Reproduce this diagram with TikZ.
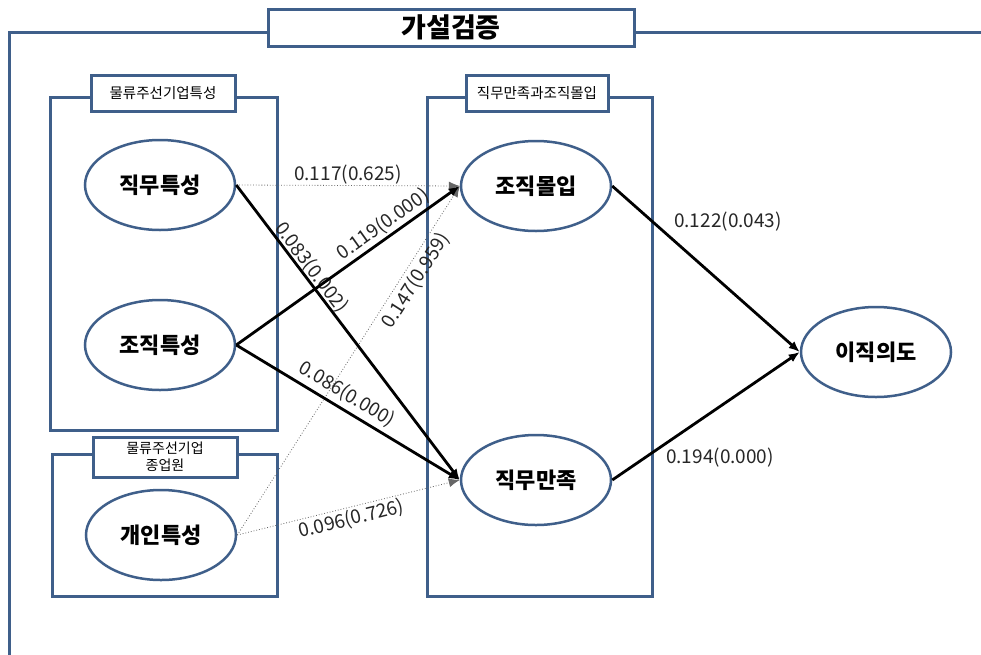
\documentclass[tikz,border=0pt]{standalone}
\usepackage{fontspec}
\setmainfont{Noto Sans CJK KR}
\usetikzlibrary{arrows.meta,shapes.geometric}
\definecolor{frameblue}{HTML}{3F5F8A}
\tikzset{
  frameline/.style={draw=frameblue, line width=3pt},
  groupbox/.style={draw=frameblue, line width=3pt},
  labbox/.style={draw=frameblue, line width=3pt, fill=white, inner sep=0pt, font=\fontsize{14.5}{16}\selectfont, align=center},
  factor/.style={ellipse, draw=frameblue, line width=2.5pt, fill=white, minimum width=150pt, minimum height=90pt, inner sep=0pt, font=\fontsize{22}{26}\selectfont\bfseries},
  strong/.style={draw=black, line width=2.8pt, -{Latex[length=11pt,width=9pt]}},
  weak/.style={draw=black!60, line width=0.8pt, dotted, -{Latex[length=11pt,width=9pt]}},
  coef/.style={font=\fontsize{19}{21}\selectfont, text=black!85, inner sep=2pt}
}
\begin{document}
\begin{tikzpicture}[x=1pt,y=-1pt]
\useasboundingbox (0,0) rectangle (981,654);
\fill[white] (0,0) rectangle (981,654);
% outer frame
\coordinate (fA) at (268,32);
\coordinate (fB) at (9,32);
\coordinate (fC) at (9,660);
\coordinate (fD) at (634,32);
\coordinate (fE) at (990,32);
\draw[frameline] (fA) -- (fB) -- (fC);
\draw[frameline] (fD) -- (fE);
\node[draw=frameblue, line width=3pt, fill=white, minimum width=366pt, minimum height=37pt, inner sep=0pt, font=\fontsize{27}{30}\selectfont\bfseries] (title) at (451,27.5) {가설검증};
% group boxes
\draw[groupbox] (50,97) rectangle (277,430);
\draw[groupbox] (52,454) rectangle (277,596);
\draw[groupbox] (427,97) rectangle (652,596);
\node[labbox, minimum width=144pt, minimum height=36pt] (g1lab) at (163,93) {물류주선기업특성};
\node[labbox, minimum width=144pt, minimum height=40pt, font=\fontsize{14}{17}\selectfont] (g2lab) at (165,457) {물류주선기업\\종업원};
\node[labbox, minimum width=142pt, minimum height=36pt] (g3lab) at (537,93) {직무만족과조직몰입};
% factors
\node[factor] (jt) at (160,185) {직무특성};
\node[factor] (ot) at (160,345) {조직특성};
\node[factor] (pt) at (161,535) {개인특성};
\node[factor] (oc) at (536,186) {조직몰입};
\node[factor] (js) at (536,480) {직무만족};
\node[factor] (ti) at (876,352) {이직의도};
% paths
\draw[weak] (jt.east) -- node[coef, above, yshift=-1pt] {0.117(0.625)} (oc.west);
\draw[weak] (pt.east) -- node[coef, sloped, below, pos=0.75, yshift=-2pt] {0.147(0.959)} (oc.west);
\draw[weak] (pt.east) -- node[coef, sloped, below, pos=0.5] {0.096(0.726)} (js.west);
\draw[strong] (jt.east) -- node[coef, sloped, pos=0.3, above, yshift=-3pt] {0.083(0.002)} (js.west);
\draw[strong] (ot.east) -- node[coef, sloped, pos=0.69, above] {0.119(0.000)} (oc.west);
\draw[strong] (ot.east) -- node[coef, sloped, pos=0.46, above, yshift=2pt] {0.086(0.000)} (js.west);
\draw[strong] (oc.east) -- (ti.west);
\draw[strong] (js.east) -- (ti.west);
\node[coef] (c122) at (728,222) {0.122(0.043)};
\node[coef] (c194) at (720,458) {0.194(0.000)};
\end{tikzpicture}
\end{document}
